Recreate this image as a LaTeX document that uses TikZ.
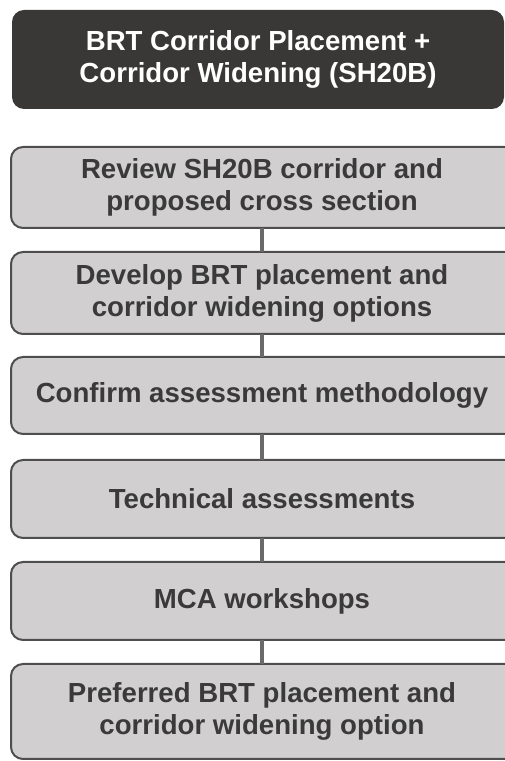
\documentclass[tikz,border=0pt]{standalone}
\usepackage{fontspec}
\usetikzlibrary{backgrounds}
\setmainfont{Liberation Sans}
\definecolor{headfill}{HTML}{3A3836}
\definecolor{boxfill}{HTML}{D1CFD0}
\definecolor{boxline}{HTML}{4E4E4E}
\definecolor{boxtext}{HTML}{3A3A3A}
\definecolor{linkgray}{HTML}{6A6A6A}
\begin{document}
\begin{tikzpicture}[x=1pt,y=1pt,line width=2pt,
 line cap=round,line join=round,
 font=\fontsize{27.6}{32}\selectfont\bfseries,
 head/.style={fill=headfill,text=white,rounded corners=12pt,align=center,
  minimum width=492pt,inner sep=0pt},
 stage/.style={text=boxtext,align=center,minimum width=500pt,inner sep=0pt},
 stagebox/.style={draw=boxline,fill=boxfill,line width=2pt,rounded corners=12pt},
 link/.style={draw=linkgray,line width=4pt,line cap=butt}]
 \useasboundingbox (0,0) rectangle (504,761);
 \clip (0,0) rectangle (504,761);
 \node[head,minimum height=99pt] (hd) at (258,701.5)
  {BRT Corridor Placement +\\Corridor Widening (SH20B)};
 \node[stage,minimum height=79pt] (s1) at (262,573.5)
  {Review SH20B corridor and\\proposed cross section};
 \node[stage,minimum height=80pt] (s2) at (262,468)
  {Develop BRT placement and\\corridor widening options};
 \node[stage,minimum height=75pt] (s3) at (262,365.5)
  {Confirm assessment methodology};
 \node[stage,minimum height=76pt] (s4) at (262,262)
  {Technical assessments};
 \node[stage,minimum height=76pt] (s5) at (262,160)
  {MCA workshops};
 \node[stage,minimum height=93pt] (s6) at (262,49.5)
  {Preferred BRT placement and\\corridor widening option};
 % boxes run off the right edge
 \begin{scope}[on background layer]
  \foreach \n in {s1,s2,s3,s4,s5,s6}
   \draw[stagebox] (\n.south west) rectangle ([xshift=30pt]\n.north east);
 \end{scope}
 \foreach \a/\b in {s1/s2,s2/s3,s3/s4,s4/s5,s5/s6}
  \draw[link] (\a) -- (\b);
\end{tikzpicture}
\end{document}
